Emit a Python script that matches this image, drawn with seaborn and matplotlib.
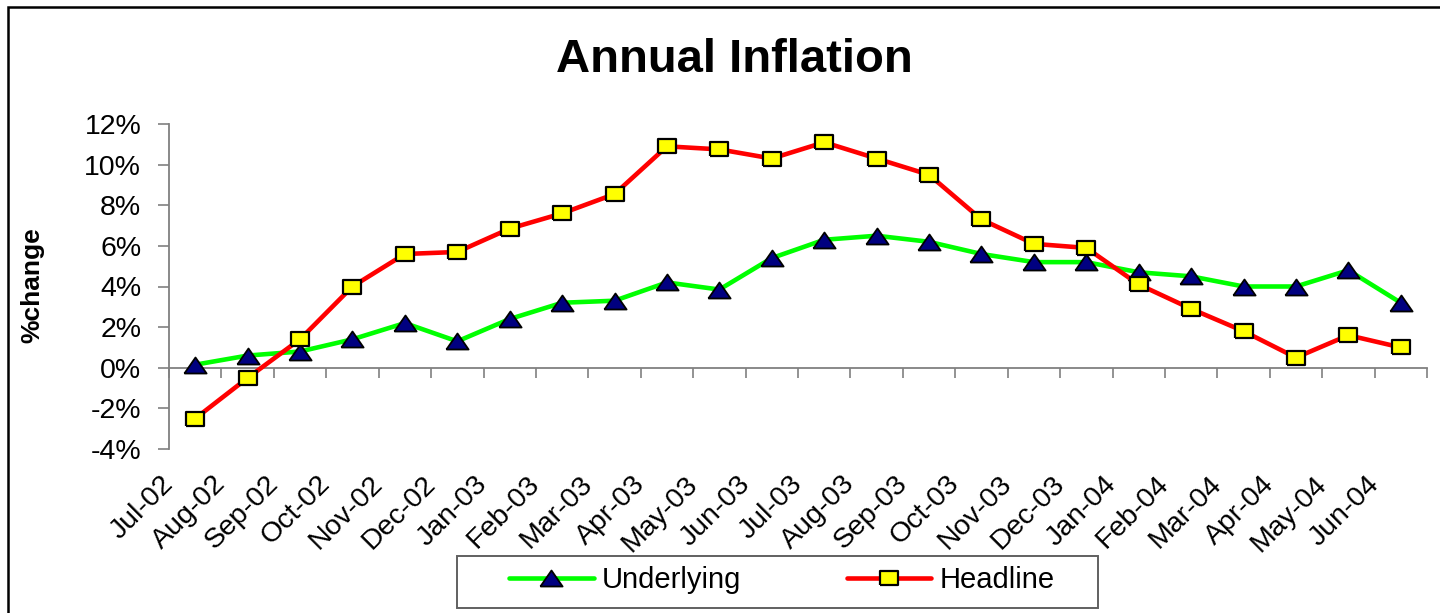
import numpy as np
import pandas as pd
import matplotlib
matplotlib.use("Agg")
import matplotlib.pyplot as plt
import matplotlib.transforms as mtransforms
from matplotlib.lines import Line2D
from matplotlib.patches import Rectangle
import seaborn as sns

# ---- data -------------------------------------------------------------
months = ["Jul-02", "Aug-02", "Sep-02", "Oct-02", "Nov-02", "Dec-02",
          "Jan-03", "Feb-03", "Mar-03", "Apr-03", "May-03", "Jun-03",
          "Jul-03", "Aug-03", "Sep-03", "Oct-03", "Nov-03", "Dec-03",
          "Jan-04", "Feb-04", "Mar-04", "Apr-04", "May-04", "Jun-04"]
underlying = [0.15, 0.6, 0.8, 1.4, 2.2, 1.3, 2.4, 3.2, 3.3, 4.2, 3.85, 5.4,
              6.3, 6.5, 6.2, 5.6, 5.2, 5.2, 4.7, 4.5, 4.0, 4.0, 4.8, 3.2]
headline = [-2.5, -0.5, 1.4, 4.0, 5.6, 5.7, 6.85, 7.6, 8.55, 10.9, 10.75, 10.3,
            11.1, 10.3, 9.5, 7.3, 6.1, 5.9, 4.1, 2.9, 1.8, 0.5, 1.6, 1.0]
y_ticks = [-4, -2, 0, 2, 4, 6, 8, 10, 12]

df = pd.DataFrame({"idx": np.arange(len(months)),
                   "month": months,
                   "Underlying": underlying,
                   "Headline": headline})

# ---- styling ----------------------------------------------------------
sns.set_style("white")
plt.rcParams["font.family"] = ["Liberation Sans", "DejaVu Sans"]
plt.rcParams["text.color"] = "black"
plt.rcParams["xtick.color"] = "black"
plt.rcParams["ytick.color"] = "black"

GRAY = "#808080"
tri = [(-1, -0.72), (1, -0.72), (0, 0.72), (-1, -0.72)]
sq = [(-1, -0.75), (1, -0.75), (1, 0.75), (-1, 0.75), (-1, -0.75)]

fig = plt.figure(figsize=(14.4, 6.13), dpi=100)
W, H = 1440, 613
ax = fig.add_axes([169 / W, 1 - 449 / H, (1427 - 169) / W, (449 - 124) / H])

und_style = dict(color="#00FF00", lw=3.3, marker=tri, markersize=16,
                 markerfacecolor="#000080", markeredgecolor="black",
                 markeredgewidth=1.3)
head_style = dict(color="#FF0000", lw=3.3, marker=sq, markersize=13.5,
                  markerfacecolor="#FFFF00", markeredgecolor="black",
                  markeredgewidth=1.6)

sns.lineplot(data=df, x="idx", y="Underlying", ax=ax, zorder=3, **und_style)
sns.lineplot(data=df, x="idx", y="Headline", ax=ax, zorder=4, **head_style)

ax.set_xlim(-0.5, len(months) - 0.5)
ax.set_ylim(-4, 12)
ax.set_xlabel("")
ax.set_ylabel("")

# y axis
ax.set_yticks(y_ticks)
ax.set_yticklabels([f"{v}%" for v in y_ticks], fontsize=20.5, color="black")
ax.tick_params(axis="y", left=True, direction="out", length=8, width=1.2,
               color=GRAY, pad=12, labelcolor="black")

# category axis crossing at zero, ticks on category boundaries
for s in ("top", "right"):
    ax.spines[s].set_visible(False)
ax.spines["left"].set_color(GRAY)
ax.spines["left"].set_linewidth(1.3)
ax.spines["bottom"].set_position(("data", 0))
ax.spines["bottom"].set_color(GRAY)
ax.spines["bottom"].set_linewidth(1.3)
ax.set_xticks(np.arange(len(months) + 1) - 0.5)
ax.tick_params(axis="x", bottom=True, direction="out", length=7, width=1.2,
               color=GRAY, labelbottom=False)

# rotated month labels below the plot area
blend = mtransforms.blended_transform_factory(ax.transData, ax.transAxes)
shift = mtransforms.ScaledTranslation(-0.26, -0.31, fig.dpi_scale_trans)
for i, m in enumerate(months):
    ax.text(i, 0, m, transform=blend + shift, rotation=45, ha="right",
            va="center", rotation_mode="anchor", fontsize=20.5, color="black")

# title and axis label
fig.text(734 / W, 1 - 60 / H, "Annual Inflation", ha="center", va="center",
         fontsize=34, fontweight="bold", color="black")
fig.text(32 / W, 1 - 285 / H, "%change", ha="center", va="center",
         rotation=90, fontsize=19, fontweight="bold", color="black")

# legend: entries without their own frame, boxed by a rectangle
handles = [Line2D([], [], **und_style), Line2D([], [], **head_style)]
leg = fig.legend(handles, ["Underlying", "Headline"], ncol=2,
                 loc="center", bbox_to_anchor=(782 / W, 1 - 580 / H),
                 frameon=False, fontsize=21, handlelength=2.9,
                 handletextpad=0.3, columnspacing=3.6, labelcolor="black")
fig.patches.append(Rectangle((457 / W, 1 - 608 / H), (1098 - 457) / W,
                             (608 - 556) / H, transform=fig.transFigure,
                             fill=False, edgecolor="#606060", lw=1.4))

# outer frame (only top and left edges fall inside the canvas)
fig.patches.append(Rectangle((8 / W, -0.05), 1.1, 1 - 7 / H + 0.05,
                             transform=fig.transFigure, fill=False,
                             edgecolor="black", lw=1.8))

fig.savefig("out.png", dpi=100)
